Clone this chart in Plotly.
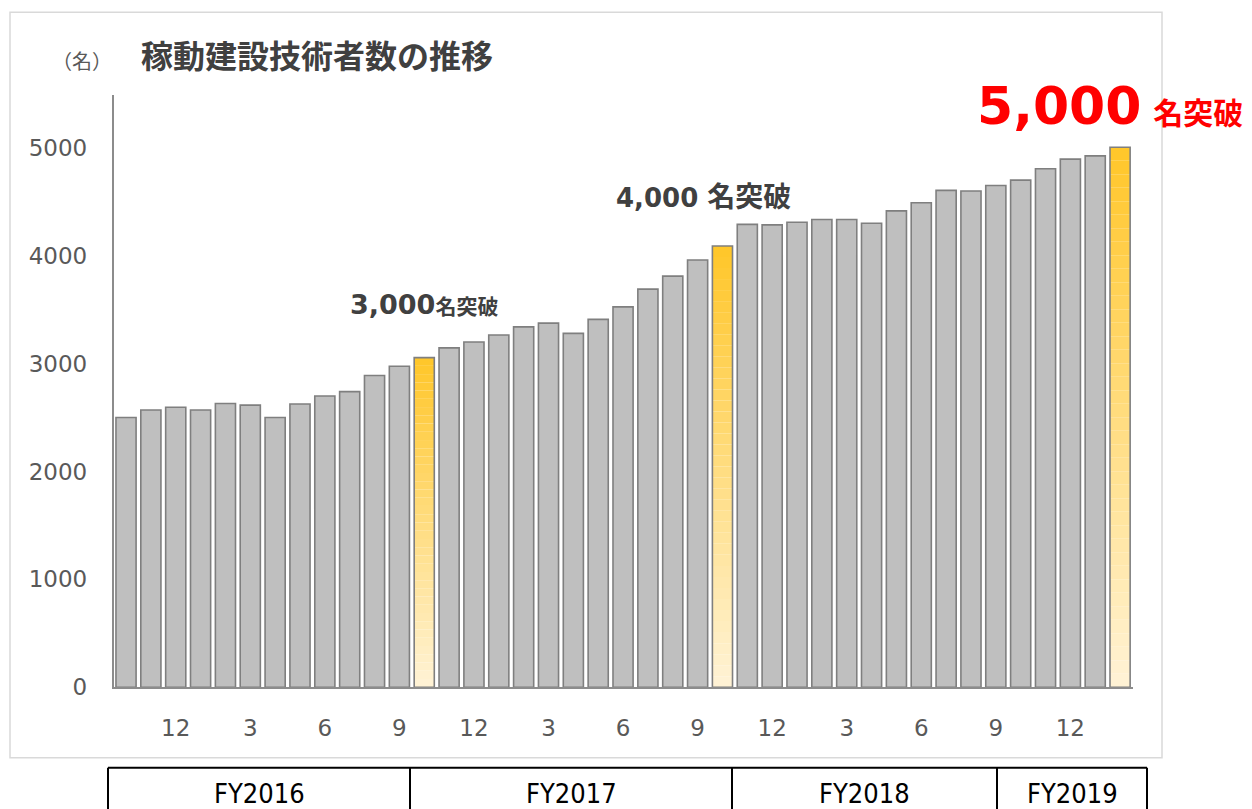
import plotly.graph_objects as go

# ---------------- data ----------------
months = [10, 11, 12, 1, 2, 3, 4, 5, 6, 7, 8, 9,
          10, 11, 12, 1, 2, 3, 4, 5, 6, 7, 8, 9,
          10, 11, 12, 1, 2, 3, 4, 5, 6, 7, 8, 9,
          10, 11, 12, 1, 2]
engineers = [2500, 2570, 2595, 2570, 2630, 2615, 2500, 2625, 2700, 2740, 2890, 2975,
             3055, 3145, 3200, 3265, 3340, 3375, 3280, 3410, 3525, 3690, 3810, 3960,
             4090, 4290, 4285, 4310, 4335, 4335, 4300, 4415, 4490, 4605, 4600, 4650,
             4700, 4805, 4895, 4925, 5005]
milestones = [3000, 4000, 5000]
y_ticks = [0, 1000, 2000, 3000, 4000, 5000]
fiscal_years = ["FY2016", "FY2017", "FY2018", "FY2019"]

title_text = "稼動建設技術者数の推移"
unit_text = "（名）"

# ---------------- helpers ----------------
# page body has an 8px margin; the photographed page is slightly squeezed vertically
OFF = 8
VS = 809 / 823
W, H = 1244, 807
def px(x):
    return (x - OFF) / W
def py(y):
    return 1 - (y / VS - OFF) / H

x_idx = list(range(len(engineers)))
# first month crossing each milestone
ms_idx = []
for m in milestones:
    for i, v in enumerate(engineers):
        if v >= m:
            ms_idx.append(i)
            break

gray_y = [None if i in ms_idx else v for i, v in enumerate(engineers)]

fig = go.Figure()
fig.add_trace(go.Bar(
    x=x_idx, y=gray_y,
    marker=dict(color="#BFBFBF", line=dict(color="#7F7F7F", width=1.6)),
    hoverinfo="skip", showlegend=False))

# gradient fill for milestone bars (stacked slices)
N = 40
top_c = (255, 198, 41)
bot_c = (255, 243, 214)
for k in range(N):
    t = (k + 0.5) / N
    c = tuple(round(bot_c[j] + (top_c[j] - bot_c[j]) * t) for j in range(3))
    ys = [v / N if i in ms_idx else None for i, v in enumerate(engineers)]
    bs = [v * k / N if i in ms_idx else None for i, v in enumerate(engineers)]
    fig.add_trace(go.Bar(
        x=x_idx, y=ys, base=bs,
        marker=dict(color="rgb(%d,%d,%d)" % c, line=dict(width=0)),
        hoverinfo="skip", showlegend=False))

# outline for milestone bars
fig.add_trace(go.Bar(
    x=x_idx, y=[v if i in ms_idx else None for i, v in enumerate(engineers)],
    marker=dict(color="rgba(0,0,0,0)", line=dict(color="#7F7F7F", width=1.6)),
    hoverinfo="skip", showlegend=False))

tickvals = [i for i, m in enumerate(months) if m % 3 == 0]
ticktext = [str(months[i]) for i in tickvals]

fig.update_layout(
    width=W, height=H,
    margin=dict(l=0, r=0, t=0, b=0),
    paper_bgcolor="white", plot_bgcolor="white",
    barmode="overlay", bargap=0.19,
    font=dict(family="DejaVu Sans", color="#595959"),
    xaxis=dict(
        domain=[px(113.6), px(1132.5)],
        range=[-0.5, len(engineers) - 0.5],
        tickvals=tickvals, ticktext=ticktext,
        tickfont=dict(family="DejaVu Sans", size=23, color="#595959"),
        ticks="", ticklabelstandoff=19,
        showline=True, linecolor="#8C8C8C", linewidth=2,
        showgrid=False, zeroline=False, fixedrange=True),
    yaxis=dict(
        domain=[py(686.5), py(95)],
        range=[0, 5487],
        tickvals=y_ticks,
        tickfont=dict(family="DejaVu Sans", size=23, color="#595959"),
        ticks="", ticklabelstandoff=20,
        showline=True, linecolor="#8C8C8C", linewidth=1.5,
        showgrid=False, zeroline=False, fixedrange=True),
)

shapes = []
# outer chart frame
shapes.append(dict(type="rect", xref="paper", yref="paper",
                   x0=px(10), x1=px(1162), y0=py(757), y1=py(12),
                   line=dict(color="#D9D9D9", width=1.5), layer="below"))
# fiscal-year table
tbl_top = 767
tbl_x = [108, 410, 732, 997, 1147]
shapes.append(dict(type="line", xref="paper", yref="paper",
                   x0=px(tbl_x[0]), x1=px(tbl_x[-1]), y0=py(tbl_top), y1=py(tbl_top),
                   line=dict(color="black", width=2)))
for xx in tbl_x:
    shapes.append(dict(type="line", xref="paper", yref="paper",
                       x0=px(xx), x1=px(xx), y0=py(tbl_top), y1=-0.05,
                       line=dict(color="black", width=2)))
fig.update_layout(shapes=shapes)

ann = []
for j, fy in enumerate(fiscal_years):
    ann.append(dict(xref="paper", yref="paper",
                    x=px((tbl_x[j] + tbl_x[j + 1]) / 2), y=py(793),
                    xanchor="center", yanchor="middle", showarrow=False,
                    text=fy,
                    font=dict(family="Liberation Sans Narrow, DejaVu Sans Condensed, sans-serif",
                              size=27, color="black")))

# title and unit
ann.append(dict(xref="paper", yref="paper", x=px(139), y=py(54),
                xanchor="left", yanchor="middle", showarrow=False,
                text=title_text,
                font=dict(family="Noto Sans CJK JP", size=32, color="#404040", weight="bold")))
ann.append(dict(xref="paper", yref="paper", x=px(50), y=py(60),
                xanchor="left", yanchor="middle", showarrow=False,
                text=unit_text,
                font=dict(family="Noto Sans CJK JP", size=20, color="#595959")))

# milestone labels
num_font = "DejaVu Sans"
ann.append(dict(xref="x", yref="paper", x=ms_idx[0], y=py(304),
                xanchor="center", yanchor="middle", showarrow=False,
                text='<span style="font-family:%s;font-size:27px">3,000</span>'
                     '<span style="font-size:21px">名突破</span>' % num_font,
                font=dict(family="Noto Sans CJK JP", size=21, color="#404040", weight="bold")))
ann.append(dict(xref="paper", yref="paper", x=px(614), y=py(195),
                xanchor="left", yanchor="middle", showarrow=False,
                text='<span style="font-family:%s;font-size:26px">4,000</span>'
                     '<span style="font-family:%s;font-size:26px"> </span>'
                     '<span style="font-size:28px">名突破</span>' % (num_font, num_font),
                font=dict(family="Noto Sans CJK JP", size=28, color="#404040", weight="bold")))
ann.append(dict(xref="paper", yref="paper", x=px(975), y=py(106),
                xanchor="left", yanchor="middle", showarrow=False,
                text='<span style="font-family:%s;font-size:52px">5,000</span>'
                     '<span style="font-family:%s;font-size:34px"> </span>'
                     '<span style="font-size:30px">名突破</span>' % (num_font, num_font),
                font=dict(family="Noto Sans CJK JP", size=30, color="#FF0000", weight="bold")))

fig.update_layout(annotations=ann)
fig.write_html("out.html")
